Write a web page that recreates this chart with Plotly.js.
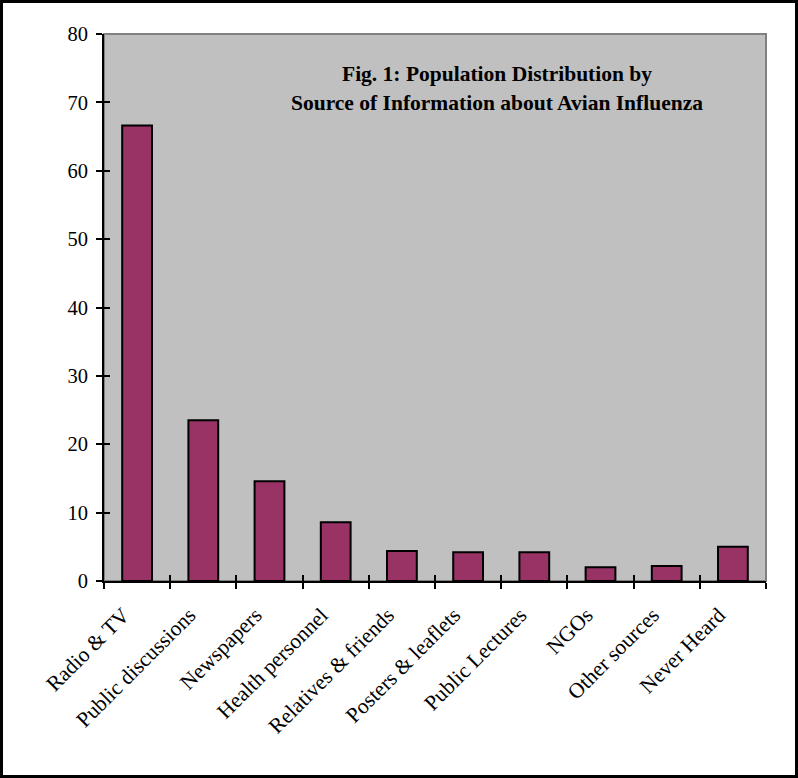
<!DOCTYPE html>
<html>
<head>
<meta charset="utf-8">
<script src="https://cdn.plot.ly/plotly-3.0.1.min.js"></script>
<style>
html, body { margin: 0; padding: 0; background: #fff; }
#wrap { position: relative; width: 798px; height: 778px; }
#chart { width: 798px; height: 778px; }
#frame { position: absolute; left: 0; top: 0; width: 798px; height: 778px; box-sizing: border-box; border: 3px solid #000; pointer-events: none; }
</style>
</head>
<body>
<div id="wrap">
<div id="chart"></div>
<div id="frame"></div>
</div>
<script>
const categories = ["Radio & TV", "Public discussions", "Newspapers", "Health personnel", "Relatives & friends", "Posters & leaflets", "Public Lectures", "NGOs", "Other sources", "Never Heard"];
const values = [66.6, 23.5, 14.6, 8.6, 4.4, 4.2, 4.2, 2.0, 2.2, 5.0];
const titleLines = ["Fig. 1: Population Distribution by", "Source of Information about Avian Influenza"];

const serif = '"Liberation Serif", "Times New Roman", serif';

const traces = [
  {
    type: 'bar', x: categories, y: values, width: 0.45,
    marker: { color: '#993366', line: { color: '#000', width: 2 } },
    hoverinfo: 'x+y'
  },
  {
    type: 'bar', x: categories, y: values, xaxis: 'x2', yaxis: 'y2', width: 0.45,
    marker: { color: 'rgba(0,0,0,0)', line: { width: 0 } },
    hoverinfo: 'skip', showlegend: false
  }
];

const layout = {
  width: 798, height: 778,
  margin: { l: 104, r: 32, t: 34, b: 197 },
  paper_bgcolor: '#fff',
  plot_bgcolor: '#C0C0C0',
  showlegend: false,
  font: { family: serif, color: '#000', size: 21 },
  xaxis: {
    type: 'category', categoryarray: categories, range: [-0.5, 9.5],
    tickson: 'boundaries', ticks: 'outside', ticklen: 6, tickwidth: 2, tickcolor: '#000',
    showline: true, linecolor: '#000', linewidth: 2, showgrid: false, zeroline: false,
    tickangle: -45, tickfont: { family: serif, size: 21.5 },
    ticklabelstandoff: 11, ticklabelshift: -14, fixedrange: true
  },
  yaxis: {
    range: [0, 80], dtick: 10, ticks: 'outside', ticklen: 6, tickwidth: 2, tickcolor: '#000',
    showline: true, linecolor: '#000', linewidth: 2, showgrid: false, zeroline: false,
    tickfont: { family: serif, size: 20.5 }, ticklabelstandoff: 4, fixedrange: true
  },
  xaxis2: {
    overlaying: 'x', anchor: 'y2', type: 'category', categoryarray: categories, range: [-0.5, 9.5],
    tickson: 'boundaries', ticks: 'inside', ticklen: 6, tickwidth: 2, tickcolor: '#000',
    showticklabels: false, showline: false, showgrid: false, zeroline: false, fixedrange: true
  },
  yaxis2: {
    overlaying: 'y', anchor: 'x2', range: [0, 80], dtick: 10,
    ticks: 'inside', ticklen: 6, tickwidth: 2, tickcolor: '#000',
    showticklabels: false, showline: false, showgrid: false, zeroline: false, fixedrange: true
  },
  shapes: [
    { type: 'rect', xref: 'paper', yref: 'paper', x0: 0, x1: 1, y0: 0, y1: 1,
      line: { color: '#808080', width: 2 }, layer: 'below' }
  ],
  annotations: [
    { text: '<b>' + titleLines[0] + '</b>', xref: 'paper', yref: 'paper', x: 0.594, y: 0.927,
      showarrow: false, xanchor: 'center', yanchor: 'middle', font: { family: serif, size: 21.5, color: '#000' } },
    { text: '<b>' + titleLines[1] + '</b>', xref: 'paper', yref: 'paper', x: 0.594, y: 0.874,
      showarrow: false, xanchor: 'center', yanchor: 'middle', font: { family: serif, size: 21.5, color: '#000' } }
  ]
};

Plotly.newPlot('chart', traces, layout, { displayModeBar: false, staticPlot: true });
</script>
</body>
</html>
